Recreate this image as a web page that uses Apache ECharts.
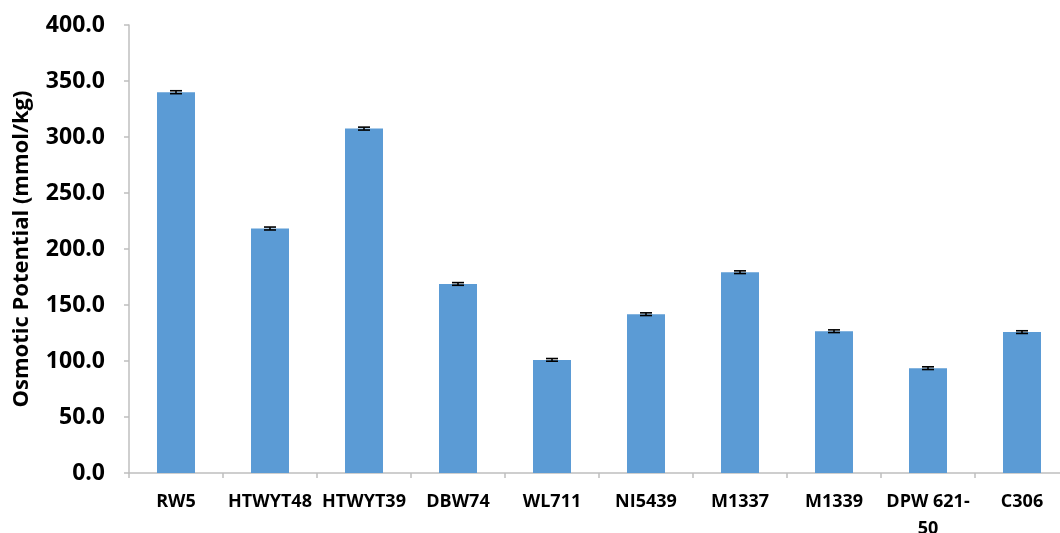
<!DOCTYPE html>
<html>
<head>
<meta charset="utf-8">
<script src="https://cdn.jsdelivr.net/npm/echarts@6/dist/echarts.min.js"></script>
<style>
  html, body { margin: 0; padding: 0; background: #fff; overflow: hidden; }
  #chart { width: 1060px; height: 533px; }
</style>
</head>
<body>
<div id="chart"></div>
<script>
// Osmotic potential per wheat genotype, with standard error
const genotypes = ['RW5', 'HTWYT48', 'HTWYT39', 'DBW74', 'WL711', 'NI5439', 'M1337', 'M1339', 'DPW 621-50', 'C306'];
const osmoticPotential = [340.0, 218.3, 307.5, 168.8, 101.0, 141.8, 179.3, 126.6, 93.6, 125.8];
const standardError = [1.3, 1.3, 1.3, 1.2, 1.2, 1.2, 1.2, 1.2, 1.2, 1.2];
const yTicks = [0, 50, 100, 150, 200, 250, 300, 350, 400];

const FONT = '"Open Sans", "Noto Sans", sans-serif';
const AXIS_GREY = '#BFBFBF';

const errorData = genotypes.map((g, i) => [i, osmoticPotential[i] - standardError[i], osmoticPotential[i] + standardError[i]]);

const chart = echarts.init(document.getElementById('chart'), null, { renderer: 'canvas' });

chart.setOption({
  animation: false,
  backgroundColor: '#ffffff',
  grid: { left: 129, right: -9, top: 25, bottom: 60, containLabel: false, outerBoundsMode: 'none' },
  xAxis: {
    type: 'category',
    data: genotypes,
    boundaryGap: true,
    axisLine: { lineStyle: { color: AXIS_GREY, width: 1.5 } },
    axisTick: { show: true, length: 5, alignWithLabel: false, lineStyle: { color: AXIS_GREY, width: 1.5 } },
    axisLabel: {
      interval: 0,
      margin: 15,
      color: '#000',
      fontFamily: FONT,
      fontWeight: 'bold',
      fontSize: 18,
      lineHeight: 27,
      formatter: v => v.replace('621-', '621-\n')
    }
  },
  yAxis: {
    type: 'value',
    min: yTicks[0],
    max: yTicks[yTicks.length - 1],
    interval: yTicks[1] - yTicks[0],
    name: 'Osmotic Potential (mmol/kg)',
    nameLocation: 'middle',
    nameGap: 96,
    nameTextStyle: { color: '#000', fontFamily: FONT, fontWeight: 'bold', fontSize: 22 },
    splitLine: { show: false },
    axisLine: { show: true, lineStyle: { color: AXIS_GREY, width: 1.5 } },
    axisTick: { show: true, length: 5, lineStyle: { color: AXIS_GREY, width: 1.5 } },
    axisLabel: {
      margin: 24,
      color: '#000',
      fontFamily: FONT,
      fontWeight: 'bold',
      fontSize: 23,
      formatter: v => v.toFixed(1)
    }
  },
  series: [
    {
      type: 'bar',
      data: osmoticPotential,
      barWidth: 38,
      itemStyle: { color: '#5B9BD5' }
    },
    {
      type: 'custom',
      data: errorData,
      z: 10,
      renderItem: (params, api) => {
        const x = api.value(0);
        const lo = api.coord([x, api.value(1)]);
        const hi = api.coord([x, api.value(2)]);
        const half = 6;
        const style = { stroke: '#000', lineWidth: 1.6 };
        return {
          type: 'group',
          children: [
            { type: 'line', shape: { x1: lo[0], y1: lo[1], x2: hi[0], y2: hi[1] }, style },
            { type: 'line', shape: { x1: lo[0] - half, y1: lo[1], x2: lo[0] + half, y2: lo[1] }, style },
            { type: 'line', shape: { x1: hi[0] - half, y1: hi[1], x2: hi[0] + half, y2: hi[1] }, style }
          ]
        };
      }
    }
  ]
});
</script>
</body>
</html>
